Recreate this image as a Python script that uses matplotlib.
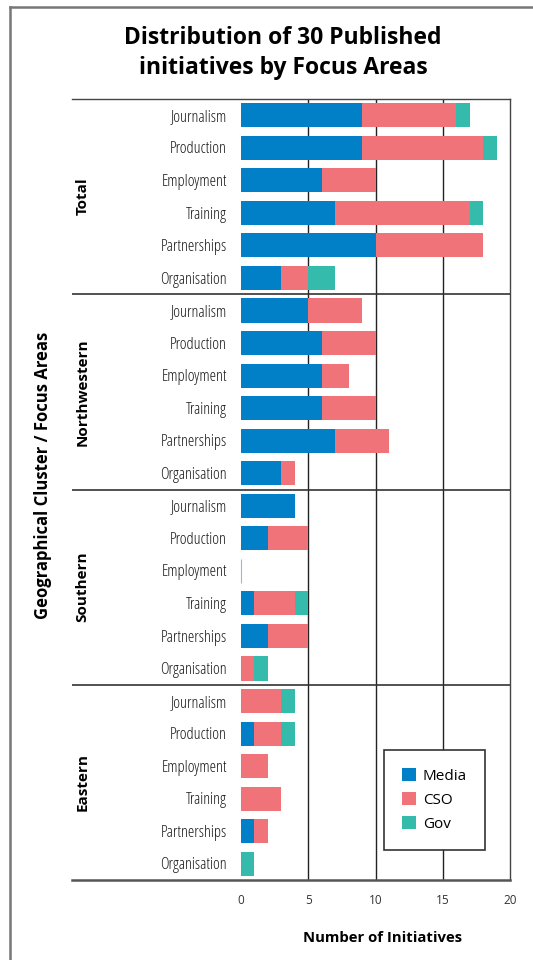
import numpy as np
import matplotlib.pyplot as plt
from matplotlib.lines import Line2D

clusters = ['Total', 'Northwestern', 'Southern', 'Eastern']
areas = ['Journalism', 'Production', 'Employment', 'Training', 'Partnerships', 'Organisation']

# values per row, clusters in order (6 focus areas each)
media = [9, 9, 6, 7, 10, 3,
         5, 6, 6, 6, 7, 3,
         4, 2, 0, 1, 2, 0,
         0, 1, 0, 0, 1, 0]
cso = [7, 9, 4, 10, 8, 2,
       4, 4, 2, 4, 4, 1,
       0, 3, 0, 3, 3, 1,
       3, 2, 2, 3, 1, 0]
gov = [1, 1, 0, 1, 0, 2,
       0, 0, 0, 0, 0, 0,
       0, 0, 0, 1, 0, 1,
       1, 1, 0, 0, 0, 1]

c_media = '#0180C8'
c_cso = '#F0737A'
c_gov = '#35BBAB'

W, H = 533, 960
fig = plt.figure(figsize=(W / 100, H / 100), dpi=100)
ax = fig.add_axes([72 / W, 1 - 880 / H, (510 - 72) / W, (880 - 99) / H])

n = len(media)
y = np.arange(n)
media = np.array(media)
cso = np.array(cso)
gov = np.array(gov)

bars = ax.barh(y, media, height=0.74, color=c_media, label='Media', zorder=3)
ax.barh(y, cso, left=media, height=0.74, color=c_cso, label='CSO', zorder=3)
ax.barh(y, gov, left=media + cso, height=0.74, color=c_gov, label='Gov', zorder=3)

# empty rows still show a faint line at zero
for b, tot in zip(bars, media + cso + gov):
    if tot == 0:
        b.set_edgecolor('#9CB8D0')
        b.set_linewidth(0.8)

xmin = -(241 - 72) / 13.45
ax.set_xlim(xmin, 20)
ax.set_ylim(n - 0.5, -0.5)

# vertical grid lines
for v in [5, 10, 15]:
    ax.axvline(v, color='#222222', lw=1.0, zorder=1)

# cluster separators
for g in range(1, len(clusters)):
    ax.axhline(g * 6 - 0.5, color='#333333', lw=1.2, zorder=1)

# focus area labels
for i in range(n):
    ax.text(-1.05, i + 0.05, areas[i % 6], ha='right', va='center',
            fontsize=11.8, family='Open Sans', fontstretch='condensed', color='#1a1a1a')

# cluster labels
for g, name in enumerate(clusters):
    ax.text(-11.8, g * 6 + 2.5, name, rotation=90, ha='center', va='center',
            fontsize=11, fontweight='bold', family='Open Sans')

ax.set_yticks([])
ax.set_xticks([0, 5, 10, 15, 20])
ax.tick_params(axis='x', length=0, pad=10, labelsize=8.5, labelcolor='#333333')
for lbl in ax.get_xticklabels():
    lbl.set_family('Open Sans')

ax.spines['left'].set_visible(False)
ax.spines['top'].set_color('#444444')
ax.spines['top'].set_linewidth(1.0)
ax.spines['right'].set_color('#444444')
ax.spines['right'].set_linewidth(1.0)
ax.spines['bottom'].set_color('#555555')
ax.spines['bottom'].set_linewidth(1.8)

leg = ax.legend(loc='lower left', bbox_to_anchor=(0.712, 0.038), fancybox=False,
                edgecolor='#333333', framealpha=1,
                handlelength=0.9, handleheight=0.9, handletextpad=0.45,
                labelspacing=0.55, borderpad=1.2, borderaxespad=0,
                prop={'family': 'Open Sans', 'size': 11})
leg.get_frame().set_linewidth(1.2)
leg.set_zorder(5)

fig.text(283 / W, 1 - 53 / H, 'Distribution of 30 Published\ninitiatives by Focus Areas',
         ha='center', va='center', fontsize=16.5, fontweight='bold',
         family='Open Sans', linespacing=1.3)
fig.text(43 / W, 1 - 475 / H, 'Geographical Cluster / Focus Areas', rotation=90,
         ha='center', va='center', fontsize=12, fontweight='bold', family='Open Sans')
fig.text(383 / W, 1 - 938 / H, 'Number of Initiatives', ha='center', va='center',
         fontsize=10.7, fontweight='bold', family='Open Sans')

# outer frame
fig.add_artist(Line2D([10 / W, 10 / W], [0, 1 - 7 / H], color='#777777', lw=1.8))
fig.add_artist(Line2D([10 / W, 1], [1 - 7 / H, 1 - 7 / H], color='#777777', lw=1.8))

fig.savefig('out.png', dpi=100)
